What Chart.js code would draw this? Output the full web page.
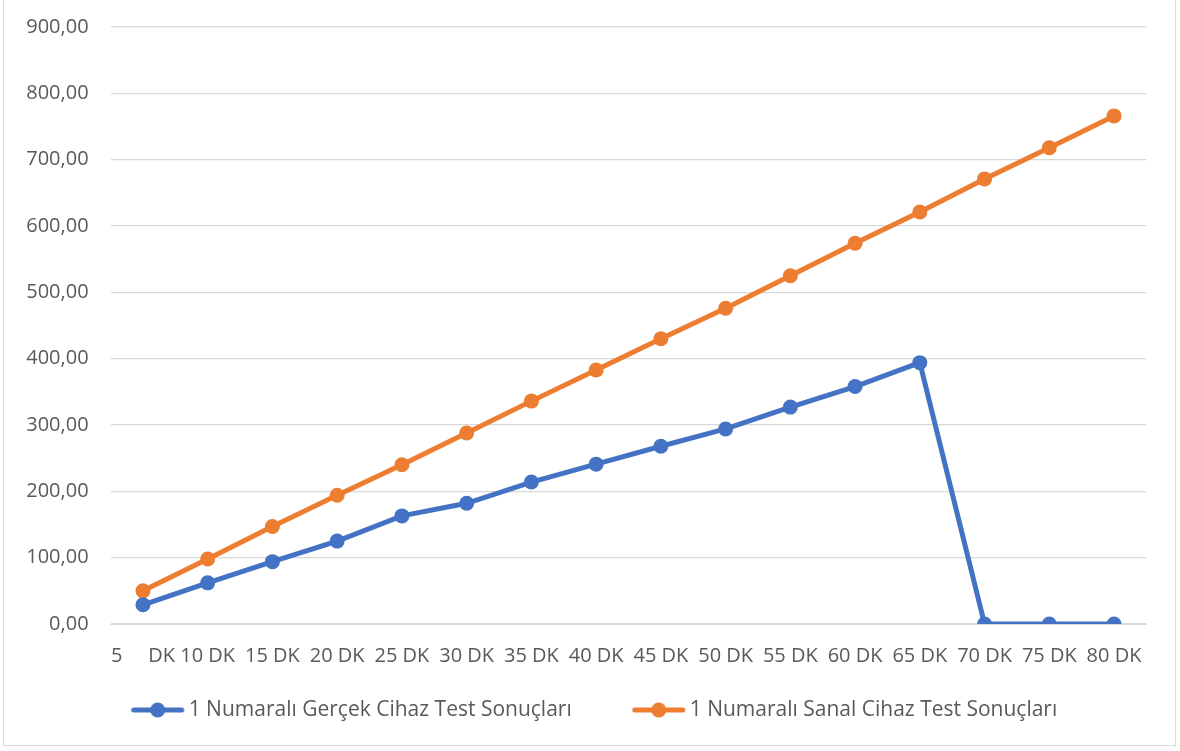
<!DOCTYPE html>
<html>
<head>
<meta charset="utf-8">
<script src="https://cdn.jsdelivr.net/npm/chart.js@4"></script>
<style>
  html, body { margin: 0; padding: 0; background: #ffffff; }
  #wrap { position: absolute; left: 0; top: 0; width: 1180px; height: 751px; }
  #frame { position: absolute; left: 3px; top: -1px; width: 1171px; height: 745px; border: 1.5px solid #d9d9d9; pointer-events: none; }
  canvas { position: absolute; left: 0; top: 0; }
</style>
</head>
<body>
<div id="wrap">
  <canvas id="chart" width="1180" height="751"></canvas>
  <div id="frame"></div>
</div>
<script>
// Test durations (minutes)
const categories = ["5     DK", "10 DK", "15 DK", "20 DK", "25 DK", "30 DK", "35 DK", "40 DK",
                    "45 DK", "50 DK", "55 DK", "60 DK", "65 DK", "70 DK", "75 DK", "80 DK"];

// Physical device results
const realDevice = [29, 62, 94, 125, 163, 182, 214, 241, 268, 294, 327, 358, 394, 0, 0, 0];

// Virtual device results
const virtualDevice = [50, 98, 147, 194, 240, 288, 336, 383, 430, 476, 525, 574, 621, 671, 718, 766];

const seriesNames = ["1 Numaralı Gerçek Cihaz Test Sonuçları", "1 Numaralı Sanal Cihaz Test Sonuçları"];

const yTicks = { min: 0, max: 900, step: 100 };

const BLUE = "#4472C4";
const ORANGE = "#ED7D31";
const TEXT = "#595959";
const GRID = "#d9d9d9";
const FONT = "'Open Sans', sans-serif";

// Legend symbol: a short line with a marker in the middle.
// The image is drawn centred on the legend box, so the line sits in its right part.
function legendSymbol(color) {
  const c = document.createElement("canvas");
  c.width = 100; c.height = 18;
  const g = c.getContext("2d");
  g.strokeStyle = color; g.lineWidth = 5; g.lineCap = "round";
  g.beginPath(); g.moveTo(47, 9); g.lineTo(95, 9); g.stroke();
  g.fillStyle = color;
  g.beginPath(); g.arc(71, 9, 7.5, 0, Math.PI * 2); g.fill();
  return c;
}

const formatTick = v => v.toFixed(2).replace(".", ",");

new Chart(document.getElementById("chart"), {
  type: "line",
  data: {
    labels: categories,
    datasets: [
      {
        label: seriesNames[0],
        data: realDevice,
        borderColor: BLUE,
        backgroundColor: BLUE,
        borderWidth: 5,
        pointRadius: 7.5,
        pointBorderWidth: 0,
        pointHoverRadius: 7.5,
        tension: 0,
        legendSymbol: legendSymbol(BLUE)
      },
      {
        label: seriesNames[1],
        data: virtualDevice,
        borderColor: ORANGE,
        backgroundColor: ORANGE,
        borderWidth: 5,
        pointRadius: 7.5,
        pointBorderWidth: 0,
        pointHoverRadius: 7.5,
        tension: 0,
        legendSymbol: legendSymbol(ORANGE)
      }
    ]
  },
  options: {
    responsive: false,
    animation: false,
    events: [],
    layout: { padding: { top: 27, right: 33.6, left: 6, bottom: 20.5 } },
    scales: {
      x: {
        offset: true,
        grid: { display: false },
        border: { display: true, color: GRID, width: 1 },
        ticks: { color: TEXT, font: { family: FONT, size: 20 }, padding: 12, maxRotation: 0, autoSkip: false },
        afterFit: s => { s.height = 51; }
      },
      y: {
        min: yTicks.min,
        max: yTicks.max,
        grid: { color: GRID, lineWidth: 1.3, drawTicks: false },
        border: { display: false },
        ticks: {
          stepSize: yTicks.step,
          color: TEXT,
          font: { family: FONT, size: 20 },
          padding: 22,
          callback: v => formatTick(v)
        },
        afterFit: s => {
          s.width = 104.6;
          // keep the plot top set by the layout padding alone
          s.paddingTop = 0;
          s.paddingBottom = 0;
        }
      }
    },
    plugins: {
      tooltip: { enabled: false },
      legend: {
        position: "bottom",
        labels: {
          usePointStyle: true,
          pointStyleWidth: 83,
          padding: 24.5,
          color: TEXT,
          font: { family: FONT, size: 21 },
          generateLabels: chart => chart.data.datasets.map((ds, i) => ({
            text: ds.label,
            fillStyle: ds.borderColor,
            strokeStyle: ds.borderColor,
            fontColor: TEXT,
            lineWidth: 0,
            pointStyle: ds.legendSymbol,
            datasetIndex: i,
            hidden: false
          }))
        }
      }
    }
  }
});
</script>
</body>
</html>
